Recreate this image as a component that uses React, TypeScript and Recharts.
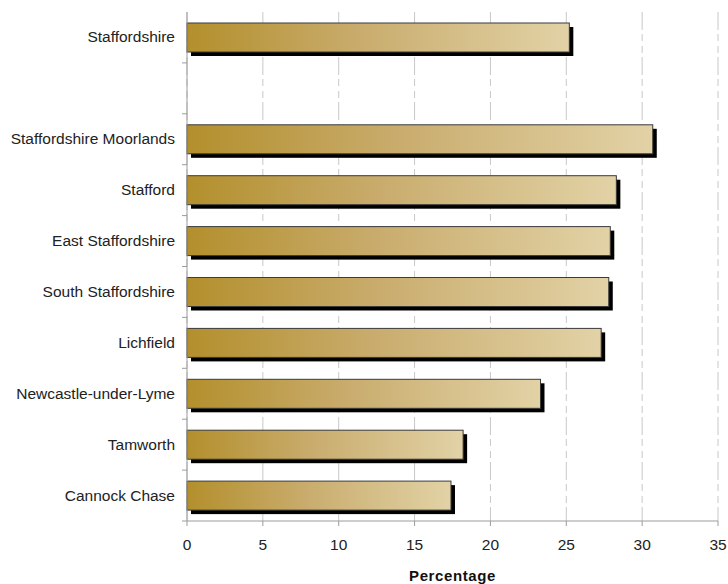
import { BarChart, Bar, XAxis, YAxis, CartesianGrid } from 'recharts';

const districts = [
  'Staffordshire',
  '',
  'Staffordshire Moorlands',
  'Stafford',
  'East Staffordshire',
  'South Staffordshire',
  'Lichfield',
  'Newcastle-under-Lyme',
  'Tamworth',
  'Cannock Chase',
];
const percentages: (number | null)[] = [25.2, null, 30.7, 28.3, 27.9, 27.8, 27.3, 23.3, 18.2, 17.4];
const xTicks = [0, 5, 10, 15, 20, 25, 30, 35];

const WIDTH = 728;
const HEIGHT = 584;
const TOP = 12;
const AXIS_W = 187;
const X_AXIS_H = 63;
const BAND = (HEIGHT - TOP - X_AXIS_H) / districts.length;
const AXIS_COLOR = '#9c9c9c';
const FONT = '"Liberation Sans", Arial, sans-serif';

const data = districts.map((name, i) => ({ name, value: percentages[i] }));

// bar with a hard black drop shadow, gradient runs across each bar's own width
function ShadowBar(props: any) {
  const { x, y, width, height } = props;
  if (!width || width <= 0) return null;
  return (
    <g>
      <rect x={x + 4} y={y + 4} width={width} height={height} fill="#000" />
      <rect x={x} y={y} width={width} height={height} fill="url(#barFill)" stroke="#3a3a3a" strokeWidth={1} />
    </g>
  );
}

// category label plus tick marks on the band boundaries
function DistrictTick(props: any) {
  const { y, payload, index } = props;
  const top = y - BAND / 2;
  const bottom = y + BAND / 2;
  return (
    <g>
      {index > 0 && <line x1={AXIS_W - 5} x2={AXIS_W} y1={top} y2={top} stroke={AXIS_COLOR} />}
      {index === districts.length - 1 && (
        <line x1={AXIS_W - 5} x2={AXIS_W} y1={bottom} y2={bottom} stroke={AXIS_COLOR} />
      )}
      <text x={AXIS_W - 12} y={y} dy={5} textAnchor="end" fill="#222" fontSize={15.5} fontFamily={FONT}>
        {payload.value}
      </text>
    </g>
  );
}

export default function App() {
  return (
    <div style={{ position: 'absolute', left: 0, top: 0, background: '#fff' }}>
      <BarChart
        width={WIDTH}
        height={HEIGHT}
        data={data}
        layout="vertical"
        margin={{ top: TOP, right: 10, bottom: 0, left: 0 }}
        barSize={29}
      >
        <defs>
          <linearGradient id="barFill" x1="0" y1="0" x2="1" y2="0">
            <stop offset="0%" stopColor="#b38f2c" />
            <stop offset="45%" stopColor="#c9ac6d" />
            <stop offset="100%" stopColor="#e2d2a6" />
          </linearGradient>
        </defs>
        <CartesianGrid horizontal={false} stroke="#c8c8c8" strokeDasharray="18 4 7 5 7 4" />
        <XAxis
          type="number"
          domain={[0, 35]}
          ticks={xTicks}
          height={X_AXIS_H}
          axisLine={{ stroke: AXIS_COLOR }}
          tickLine={{ stroke: AXIS_COLOR }}
          tickSize={5}
          tickMargin={13}
          tick={{ fill: '#222', fontSize: 15.5, fontFamily: FONT }}
          label={{
            value: 'Percentage',
            position: 'insideBottom',
            offset: 3,
            fill: '#111',
            fontSize: 15,
            fontWeight: 'bold',
            fontFamily: FONT,
            letterSpacing: 0.6,
          }}
        />
        <XAxis
          xAxisId="top"
          orientation="top"
          type="number"
          domain={[0, 35]}
          height={0}
          tick={false}
          tickLine={false}
          axisLine={{ stroke: AXIS_COLOR }}
        />
        <YAxis
          type="category"
          dataKey="name"
          width={AXIS_W}
          axisLine={{ stroke: AXIS_COLOR }}
          tickLine={false}
          tick={<DistrictTick />}
          interval={0}
        />
        <YAxis
          yAxisId="right"
          orientation="right"
          type="category"
          dataKey="name"
          width={0}
          tick={false}
          tickLine={false}
          axisLine={{ stroke: AXIS_COLOR }}
        />
        <Bar dataKey="value" shape={<ShadowBar />} isAnimationActive={false} />
      </BarChart>
    </div>
  );
}
